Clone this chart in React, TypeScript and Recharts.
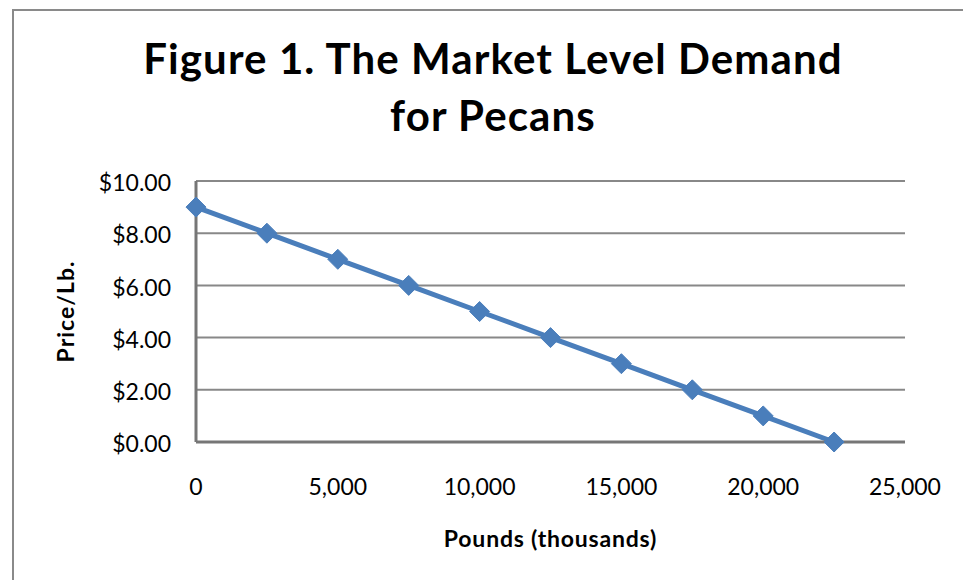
import React from "react";
import {
  LineChart,
  Line,
  XAxis,
  YAxis,
  CartesianGrid,
  Label,
} from "recharts";

const pounds = [0, 2500, 5000, 7500, 10000, 12500, 15000, 17500, 20000, 22500];
const prices = [9, 8, 7, 6, 5, 4, 3, 2, 1, 0];
const xTicks = [0, 5000, 10000, 15000, 20000, 25000];
const yTicks = [0, 2, 4, 6, 8, 10];

const data = pounds.map((p, i) => ({ pounds: p, price: prices[i] }));

const FONT = "Lato, 'Open Sans', sans-serif";
const BLUE = "#4A7EBB";

const Diamond = (props: any) => {
  const { cx, cy } = props;
  if (cx == null || cy == null) return null;
  const r = 10;
  return (
    <polygon
      points={`${cx},${cy - r} ${cx + r},${cy} ${cx},${cy + r} ${cx - r},${cy}`}
      fill={BLUE}
      stroke={BLUE}
      strokeWidth={1}
    />
  );
};

const fmtMoney = (v: number) => `$${v.toFixed(2)}`;
const fmtNum = (v: number) => v.toLocaleString("en-US");

export default function App() {
  return (
    <div
      style={{
        position: "fixed",
        left: 0,
        top: 0,
        width: 963,
        height: 580,
        background: "#fff",
        overflow: "hidden",
        fontFamily: FONT,
      }}
    >
      <div
        style={{
          position: "absolute",
          left: 12,
          top: 9,
          width: 1000,
          height: 1000,
          borderLeft: "2px solid #8a8a8a",
          borderTop: "2px solid #8a8a8a",
        }}
      />
      <div
        style={{
          position: "absolute",
          left: 13,
          top: 30,
          width: 960,
          textAlign: "center",
          fontFamily: FONT,
          fontWeight: 700,
          fontSize: 42,
          letterSpacing: "1.1px",
          lineHeight: "57px",
          color: "#000",
        }}
      >
        Figure 1. The Market Level Demand
        <br />
        for Pecans
      </div>
      <div style={{ position: "absolute", left: 0, top: 0 }}>
        <LineChart
          width={963}
          height={580}
          data={data}
          margin={{ top: 181, right: 58, bottom: 78, left: 96 }}
        >
          <CartesianGrid
            horizontal={true}
            vertical={false}
            stroke="#888888"
            strokeWidth={2}
          />
          <XAxis
            dataKey="pounds"
            type="number"
            domain={[0, 25000]}
            ticks={xTicks}
            tickFormatter={fmtNum}
            height={60}
            axisLine={{ stroke: "#767676", strokeWidth: 3 }}
            tickLine={false}
            tickSize={0}
            tickMargin={37}
            tick={{ fill: "#000", fontSize: 23, fontFamily: FONT }}
            interval={0}
          >
            <Label
              content={(p: any) => {
                const vb = p.viewBox || {};
                return (
                  <text
                    x={vb.x + vb.width / 2}
                    y={vb.y + 105}
                    textAnchor="middle"
                    fontFamily={FONT}
                    fontWeight={700}
                    fontSize={23}
                    letterSpacing={0.8}
                    fill="#000"
                  >
                    Pounds (thousands)
                  </text>
                );
              }}
            />
          </XAxis>
          <YAxis
            dataKey="price"
            type="number"
            domain={[0, 10]}
            ticks={yTicks}
            tickFormatter={fmtMoney}
            width={100}
            axisLine={{ stroke: "#767676", strokeWidth: 3 }}
            tickLine={false}
            tickSize={0}
            tickMargin={25}
            tick={{ fill: "#000", fontSize: 23, fontFamily: FONT, dy: 2 }}
            interval={0}
          >
            <Label
              content={(p: any) => {
                const vb = p.viewBox || {};
                const cx = 74;
                const cy = vb.y + vb.height / 2;
                return (
                  <text
                    x={cx}
                    y={cy}
                    transform={`rotate(-90, ${cx}, ${cy})`}
                    textAnchor="middle"
                    fontFamily={FONT}
                    fontWeight={700}
                    fontSize={23}
                    letterSpacing={1}
                    fill="#000"
                  >
                    Price/Lb.
                  </text>
                );
              }}
            />
          </YAxis>
          <Line
            type="linear"
            dataKey="price"
            stroke={BLUE}
            strokeWidth={5}
            dot={<Diamond />}
            activeDot={false}
            isAnimationActive={false}
          />
        </LineChart>
      </div>
    </div>
  );
}
